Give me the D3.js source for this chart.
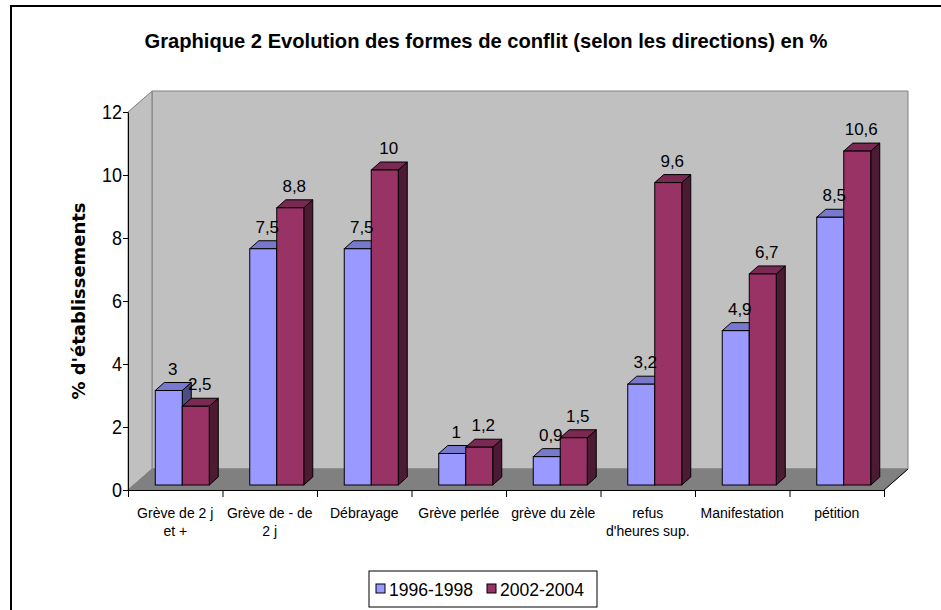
<!DOCTYPE html>
<html>
<head>
<meta charset="utf-8">
<script src="https://cdn.jsdelivr.net/npm/d3@7"></script>
<style>
  body { margin: 0; background: #fff; }
  svg { display: block; }
  text { font-family: "Liberation Sans", Arial, sans-serif; fill: #000; }
</style>
</head>
<body>
<svg id="chart" width="941" height="610"></svg>
<script>
// data
var categories = [
  ["Grève de 2 j", "et +"],
  ["Grève de - de", "2 j"],
  ["Débrayage"],
  ["Grève perlée"],
  ["grève du zèle"],
  ["refus", "d'heures sup."],
  ["Manifestation"],
  ["pétition"]
];
var seriesNames = ["1996-1998", "2002-2004"];
var values1996 = [3, 7.5, 7.5, 1, 0.9, 3.2, 4.9, 8.5];
var values2002 = [2.5, 8.8, 10, 1.2, 1.5, 9.6, 6.7, 10.6];
var yTicks = [0, 2, 4, 6, 8, 10, 12];

var colours = [
  {front: "#9999ff", top: "#7878cc", side: "#4d4d80"},
  {front: "#993366", top: "#7a2952", side: "#4d1a33"}
];

var svg = d3.select("#chart");
var fr = d3.formatLocale({decimal: ",", thousands: " ", grouping: [3], currency: ["", ""]}).format("~g");

// plot geometry
var plotL = 128, plotR = 884, plotB = 490, plotT = 112;
var depth = {dx: 24, dy: -21};       // floor / wall depth
var barOff = {dx: 7, dy: -5};        // bar front face inside the floor
var barDepth = {dx: 9, dy: -8};

var x = d3.scaleBand().domain(d3.range(categories.length)).range([plotL, plotR]);
var y = d3.scaleLinear().domain([0, 12]).range([plotB, plotT]);
var inner = d3.scaleBand().domain([0, 1]).range([-27, 27]);

// frame
svg.append("path").attr("d", "M11,615V6H945")
  .attr("fill", "none").attr("stroke", "#000").attr("stroke-width", 2);

// title
svg.append("text")
  .attr("x", 486).attr("y", 48)
  .attr("text-anchor", "middle")
  .attr("textLength", 683).attr("lengthAdjust", "spacingAndGlyphs")
  .style("font-size", "21px").style("font-weight", "bold")
  .text("Graphique 2 Evolution des formes de conflit (selon les directions) en %");

// walls and floor
var pt = function(px, py){ return px + "," + py; };
var bx0 = plotL + depth.dx, bx1 = plotR + depth.dx;
var by0 = y(12) + depth.dy, by1 = y(0) + depth.dy;

svg.append("polygon")
  .attr("points", [pt(bx0, by0), pt(bx1, by0), pt(bx1, by1), pt(bx0, by1)].join(" "))
  .attr("fill", "#c0c0c0").attr("stroke", "#808080");
svg.append("polygon")
  .attr("points", [pt(plotL, y(12)), pt(bx0, by0), pt(bx0, by1), pt(plotL, y(0))].join(" "))
  .attr("fill", "#c0c0c0").attr("stroke", "#808080");
svg.append("polygon")
  .attr("points", [pt(plotL, y(0)), pt(plotR, y(0)), pt(bx1, by1), pt(bx0, by1)].join(" "))
  .attr("fill", "#808080").attr("stroke", "#808080");
svg.append("line")
  .attr("x1", plotR).attr("y1", y(0)).attr("x2", bx1).attr("y2", by1)
  .attr("stroke", "#000");

// bars
var series = [values1996, values2002];
var yb = function(v){ return y(v) + barOff.dy; };

categories.forEach(function(c, i){
  series.forEach(function(vals, s){
    var v = vals[i];
    var x0 = x(i) + x.bandwidth() / 2 + barOff.dx + inner(s);
    var x1 = x0 + inner.bandwidth();
    var y0 = yb(0), y1 = yb(v);
    var dx = barDepth.dx, dy = barDepth.dy;
    var g = svg.append("g").attr("class", "bar");
    g.append("polygon")
      .attr("points", [pt(x1, y1), pt(x1 + dx, y1 + dy), pt(x1 + dx, y0 + dy), pt(x1, y0)].join(" "))
      .attr("fill", colours[s].side).attr("stroke", "#000").attr("stroke-linejoin", "round");
    g.append("polygon")
      .attr("points", [pt(x0, y1), pt(x0 + dx, y1 + dy), pt(x1 + dx, y1 + dy), pt(x1, y1)].join(" "))
      .attr("fill", colours[s].top).attr("stroke", "#000").attr("stroke-linejoin", "round");
    g.append("rect")
      .attr("x", x0).attr("y", y1)
      .attr("width", x1 - x0).attr("height", y0 - y1)
      .attr("fill", colours[s].front).attr("stroke", "#000");
  });
});

// data labels
categories.forEach(function(c, i){
  series.forEach(function(vals, s){
    var v = vals[i];
    var cx = x(i) + x.bandwidth() / 2 + barOff.dx + inner(s) + inner.bandwidth() / 2 + 4;
    svg.append("text")
      .attr("x", cx).attr("y", yb(v) + barDepth.dy - 8)
      .attr("text-anchor", "middle")
      .style("font-size", "17px")
      .text(fr(v));
  });
});

// y axis
var yAxis = svg.append("g")
  .attr("transform", "translate(" + plotL + ",0)")
  .call(d3.axisLeft(y).tickValues(yTicks).tickSize(5).tickSizeOuter(0).tickPadding(1));
yAxis.selectAll("path, line").attr("stroke", "#000");
yAxis.selectAll("text")
  .style("font-family", "'Liberation Sans', Arial, sans-serif")
  .style("font-size", "20px")
  .attr("textLength", function(d){ return String(d).length * 10; })
  .attr("lengthAdjust", "spacingAndGlyphs");

// x axis (category boundaries)
var xb = d3.scaleLinear().domain([0, categories.length]).range([plotL, plotR]);
var xAxis = svg.append("g")
  .attr("transform", "translate(0," + plotB + ")")
  .call(d3.axisBottom(xb).tickValues(d3.range(categories.length + 1)).tickSize(7).tickSizeOuter(0).tickFormat(""));
xAxis.selectAll("path, line").attr("stroke", "#000");

// category labels
categories.forEach(function(lines, i){
  var t = svg.append("text")
    .attr("x", x(i) + x.bandwidth() / 2)
    .attr("text-anchor", "middle")
    .style("font-size", "14px");
  lines.forEach(function(l, k){
    t.append("tspan").attr("x", x(i) + x.bandwidth() / 2).attr("y", 518 + k * 18).text(l);
  });
});

// y title
svg.append("text")
  .attr("transform", "translate(85,301) rotate(-90)")
  .attr("text-anchor", "middle")
  .attr("textLength", 197).attr("lengthAdjust", "spacingAndGlyphs")
  .style("font-family", "'DejaVu Sans', Verdana, sans-serif")
  .style("font-size", "17px").style("font-weight", "bold")
  .text("% d'établissements");

// legend
var legend = svg.append("g").attr("class", "legend");
legend.append("rect")
  .attr("x", 369).attr("y", 571).attr("width", 228).attr("height", 36)
  .attr("fill", "#fff").attr("stroke", "#000");
var legX = [376, 487];
seriesNames.forEach(function(name, s){
  legend.append("rect")
    .attr("x", legX[s]).attr("y", 584).attr("width", 9).attr("height", 9)
    .attr("fill", colours[s].front).attr("stroke", "#000");
  legend.append("text")
    .attr("x", legX[s] + 13).attr("y", 596)
    .style("font-size", "18px")
    .attr("textLength", 84).attr("lengthAdjust", "spacingAndGlyphs")
    .text(name);
});
</script>
</body>
</html>
